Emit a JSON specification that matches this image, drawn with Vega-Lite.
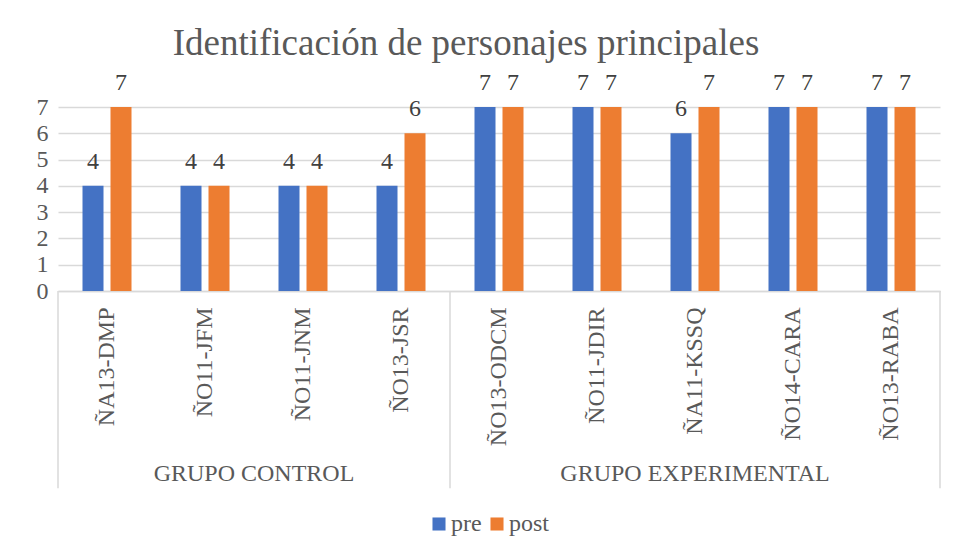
{
  "$schema": "https://vega.github.io/schema/vega-lite/v6.json",
  "background": "white",
  "padding": {"left": 36, "top": 25, "right": 10, "bottom": 5},
  "title": {"text": "Identificación de personajes principales", "font": "Liberation Serif", "fontSize": 37, "fontWeight": "normal", "color": "#595959", "anchor": "middle", "offset": 8, "dx": -33},
  "data": {"values": [
    {"grupo": "GRUPO CONTROL", "cat": "ÑA13-DMP", "serie": "pre", "valor": 4},
    {"grupo": "GRUPO CONTROL", "cat": "ÑA13-DMP", "serie": "post", "valor": 7},
    {"grupo": "GRUPO CONTROL", "cat": "ÑO11-JFM", "serie": "pre", "valor": 4},
    {"grupo": "GRUPO CONTROL", "cat": "ÑO11-JFM", "serie": "post", "valor": 4},
    {"grupo": "GRUPO CONTROL", "cat": "ÑO11-JNM", "serie": "pre", "valor": 4},
    {"grupo": "GRUPO CONTROL", "cat": "ÑO11-JNM", "serie": "post", "valor": 4},
    {"grupo": "GRUPO CONTROL", "cat": "ÑO13-JSR", "serie": "pre", "valor": 4},
    {"grupo": "GRUPO CONTROL", "cat": "ÑO13-JSR", "serie": "post", "valor": 6},
    {"grupo": "GRUPO EXPERIMENTAL", "cat": "ÑO13-ODCM", "serie": "pre", "valor": 7},
    {"grupo": "GRUPO EXPERIMENTAL", "cat": "ÑO13-ODCM", "serie": "post", "valor": 7},
    {"grupo": "GRUPO EXPERIMENTAL", "cat": "ÑO11-JDIR", "serie": "pre", "valor": 7},
    {"grupo": "GRUPO EXPERIMENTAL", "cat": "ÑO11-JDIR", "serie": "post", "valor": 7},
    {"grupo": "GRUPO EXPERIMENTAL", "cat": "ÑA11-KSSQ", "serie": "pre", "valor": 6},
    {"grupo": "GRUPO EXPERIMENTAL", "cat": "ÑA11-KSSQ", "serie": "post", "valor": 7},
    {"grupo": "GRUPO EXPERIMENTAL", "cat": "ÑO14-CARA", "serie": "pre", "valor": 7},
    {"grupo": "GRUPO EXPERIMENTAL", "cat": "ÑO14-CARA", "serie": "post", "valor": 7},
    {"grupo": "GRUPO EXPERIMENTAL", "cat": "ÑO13-RABA", "serie": "pre", "valor": 7},
    {"grupo": "GRUPO EXPERIMENTAL", "cat": "ÑO13-RABA", "serie": "post", "valor": 7}
  ]},
  "width": 882,
  "height": 184,
  "resolve": {"axis": {"y": "independent"}},
  "encoding": {
    "x": {
      "field": "cat", "type": "nominal", "sort": null,
      "scale": {"paddingInner": 0, "paddingOuter": 0},
      "axis": {"title": null, "labelAngle": -90, "labelFont": "Liberation Serif", "labelFontSize": 24, "labelColor": "#595959", "ticks": false, "domainColor": "#d9d9d9", "domainWidth": 1.5, "labelPadding": 16, "grid": false}
    }
  },
  "layer": [
    {
      "mark": {"type": "bar"},
      "encoding": {
        "y": {"field": "valor", "type": "quantitative", "scale": {"domain": [0, 7], "nice": false, "zero": true},
          "axis": {"title": null, "values": [0, 1, 2, 3, 4, 5, 6, 7], "tickCount": 8, "labelOverlap": false, "labelFont": "Liberation Serif", "labelFontSize": 24, "labelColor": "#595959", "domain": false, "ticks": false, "gridColor": "#d9d9d9", "gridWidth": 1.5, "labelPadding": 10}},
        "xOffset": {"field": "serie", "type": "nominal", "sort": ["pre", "post"], "scale": {"paddingInner": 0.25, "paddingOuter": 0.875}},
        "color": {"field": "serie", "type": "nominal", "sort": ["pre", "post"],
          "scale": {"domain": ["pre", "post"], "range": ["#4472C4", "#ED7D31"]},
          "legend": {"title": null, "orient": "none", "legendX": 369, "legendY": 405, "direction": "horizontal", "symbolType": "square", "symbolSize": 170, "symbolStrokeWidth": 0, "labelFont": "Liberation Serif", "labelFontSize": 24, "labelColor": "#595959", "labelOffset": 0, "columnPadding": 3}}
      }
    },
    {
      "mark": {"type": "text", "baseline": "alphabetic", "dy": -17, "font": "Liberation Serif", "fontSize": 24, "color": "#404040"},
      "encoding": {
        "y": {"field": "valor", "type": "quantitative", "axis": null},
        "xOffset": {"field": "serie", "type": "nominal", "sort": ["pre", "post"], "scale": {"paddingInner": 0.25, "paddingOuter": 0.875}},
        "text": {"field": "valor", "type": "quantitative"}
      }
    },
    {
      "transform": [{"filter": "datum.serie == 'pre' && (datum.cat == 'ÑA13-DMP' || datum.cat == 'ÑO13-ODCM')"}],
      "mark": {"type": "rule", "color": "#d9d9d9", "strokeWidth": 1.5},
      "encoding": {
        "x": {"field": "cat", "type": "nominal", "sort": null, "bandPosition": 0},
        "y": {"datum": 0, "type": "quantitative", "axis": null},
        "y2": {"datum": -7.5}
      }
    },
    {
      "transform": [{"filter": "datum.serie == 'pre' && datum.cat == 'ÑO13-RABA'"}],
      "mark": {"type": "rule", "color": "#d9d9d9", "strokeWidth": 1.5},
      "encoding": {
        "x": {"field": "cat", "type": "nominal", "sort": null, "bandPosition": 1},
        "y": {"datum": 0, "type": "quantitative", "axis": null},
        "y2": {"datum": -7.5}
      }
    },
    {
      "transform": [{"filter": "datum.serie == 'pre' && datum.cat == 'ÑO11-JNM'"}],
      "mark": {"type": "text", "baseline": "middle", "align": "center", "font": "Liberation Serif", "fontSize": 24, "color": "#595959"},
      "encoding": {
        "x": {"field": "cat", "type": "nominal", "sort": null, "bandPosition": 0},
        "y": {"datum": -6.95, "type": "quantitative", "axis": null},
        "text": {"field": "grupo"}
      }
    },
    {
      "transform": [{"filter": "datum.serie == 'pre' && datum.cat == 'ÑA11-KSSQ'"}],
      "mark": {"type": "text", "baseline": "middle", "align": "center", "font": "Liberation Serif", "fontSize": 24, "color": "#595959"},
      "encoding": {
        "x": {"field": "cat", "type": "nominal", "sort": null, "bandPosition": 0.5},
        "y": {"datum": -6.95, "type": "quantitative", "axis": null},
        "text": {"field": "grupo"}
      }
    }
  ],
  "config": {"view": {"stroke": null}, "font": "Liberation Serif"}
}
